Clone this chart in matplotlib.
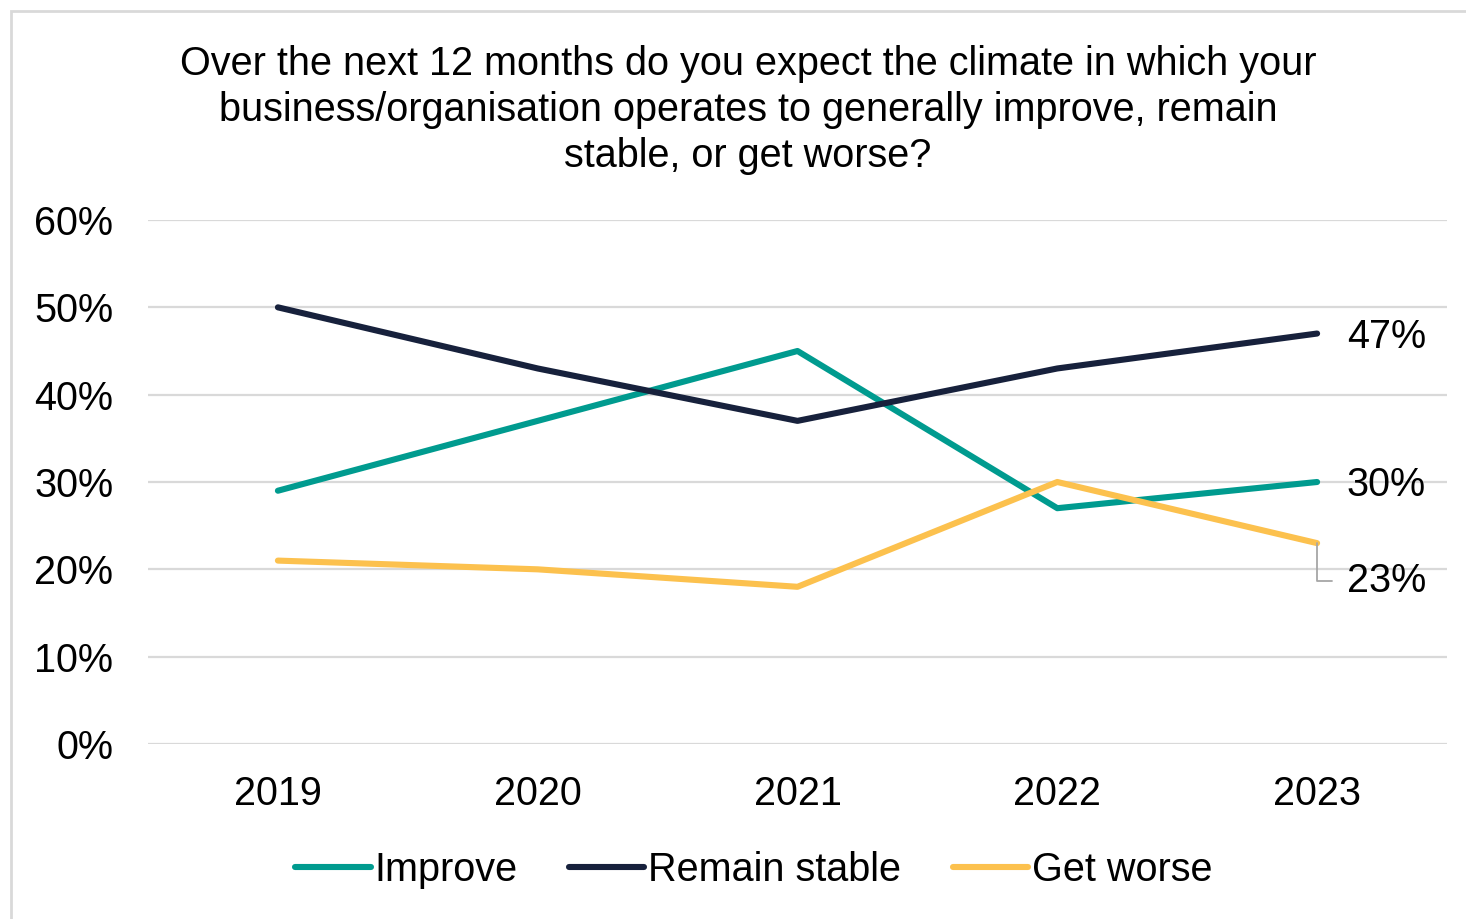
import matplotlib
matplotlib.use("Agg")
import matplotlib.pyplot as plt
from matplotlib.patches import Rectangle
from matplotlib.ticker import PercentFormatter

plt.rcParams['font.family'] = ['Liberation Sans', 'DejaVu Sans']

years = ["2019", "2020", "2021", "2022", "2023"]
improve = [29, 37, 45, 27, 30]
remain_stable = [50, 43, 37, 43, 47]
get_worse = [21, 20, 18, 30, 23]
y_ticks = [0, 10, 20, 30, 40, 50, 60]

title = ("Over the next 12 months do you expect the climate in which your\n"
         "business/organisation operates to generally improve, remain\n"
         "stable, or get worse?")

series = [
    ("Improve", improve, "#009B8F"),
    ("Remain stable", remain_stable, "#17213C"),
    ("Get worse", get_worse, "#FCC14E"),
]

FS = 28.5
fig = plt.figure(figsize=(14.66, 9.19), dpi=100)
ax = fig.add_axes([148 / 1466, 1 - 744 / 919, (1447 - 148) / 1466, (744 - 220) / 919])

x = list(range(len(years)))
for name, vals, color in series:
    ax.plot(x, vals, color=color, lw=4.4, solid_capstyle='round',
            solid_joinstyle='round', label=name, zorder=3)

ax.set_xlim(-0.5, len(years) - 0.5)
ax.set_ylim(0, 60)
ax.set_yticks(y_ticks)
ax.yaxis.set_major_formatter(PercentFormatter(decimals=0))
ax.set_xticks(x)
ax.set_xticklabels(years)
ax.tick_params(axis='both', length=0, labelsize=FS, colors='black')
ax.tick_params(axis='y', pad=25)
ax.tick_params(axis='x', pad=22)
ax.grid(axis='y', color='#D9D9D9', lw=1.6, zorder=0)
for s in ax.spines.values():
    s.set_visible(False)

# End-of-line value labels
last = len(years) - 1
ax.annotate(f"{remain_stable[-1]}%", (last, remain_stable[-1]), xytext=(21.5, -2.2),
            textcoords='offset points', va='center', ha='left', fontsize=FS)
ax.annotate(f"{improve[-1]}%", (last, improve[-1]), xytext=(21.5, -2.2),
            textcoords='offset points', va='center', ha='left', fontsize=FS)
ax.annotate(f"{get_worse[-1]}%", (last, get_worse[-1]), xytext=(21.5, -27.5),
            textcoords='offset points', va='center', ha='left', fontsize=FS,
            arrowprops=dict(arrowstyle='-', color='#A6A6A6', lw=1.3,
                            connectionstyle='angle,angleA=0,angleB=90,rad=0',
                            relpos=(0, 0.5), shrinkA=8.5, shrinkB=0))

fig.text(748 / 1466, 1 - 110 / 919, title, ha='center', va='center',
         fontsize=FS, linespacing=1.26)

leg = fig.legend(loc='center', bbox_to_anchor=(754 / 1466, 1 - 870 / 919), ncol=3,
                 frameon=False, fontsize=FS, handlelength=1.9, handletextpad=0.1,
                 columnspacing=1.3, borderaxespad=0)

fig.add_artist(Rectangle((11 / 1466, -0.01), 1.0, 1 - 11 / 919 + 0.01,
                         transform=fig.transFigure, fill=False,
                         edgecolor='#D9D9D9', lw=2))

fig.savefig("out.png", dpi=100)
